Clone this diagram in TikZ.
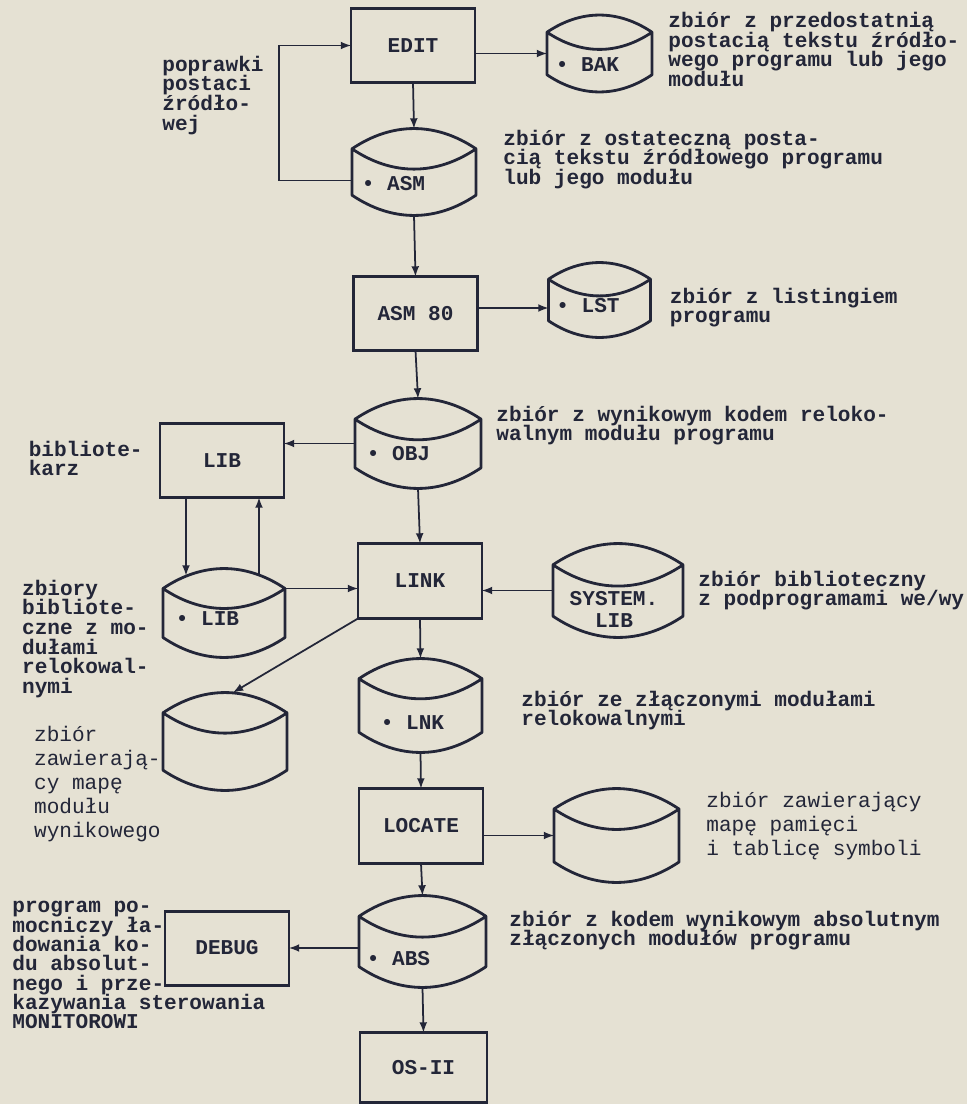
\documentclass[tikz,border=0pt]{standalone}
\usepackage{fontspec}
\setmainfont{Liberation Mono}
\usetikzlibrary{arrows,positioning}

\definecolor{paper}{RGB}{229,225,211}
\definecolor{ink}{RGB}{35,38,56}
\lineskiplimit=-20pt

\begin{document}
\begin{tikzpicture}[
    every node/.style={text=ink},
    box/.style={draw=ink, rectangle, line width=1.7pt, outer sep=0pt,
      minimum width=2.48cm, minimum height=1.48cm,
      font=\bfseries\fontsize{12pt}{12pt}\selectfont},
    disk/.style={rectangle, inner sep=0pt, outer sep=0pt,
      minimum width=#1, minimum height=1.8cm,
      append after command={\pgfextra{\let\disknode\tikzlastnode
        \draw[ink, line width=1.6pt, line join=round]
          ([yshift=-0.164*#1]\disknode.north west) to[bend left=34]
          ([yshift=-0.164*#1]\disknode.north east)
          -- ([yshift=0.164*#1]\disknode.south east) to[bend left=34]
          ([yshift=0.164*#1]\disknode.south west) -- cycle
          ([yshift=-0.164*#1]\disknode.north west) to[bend right=34]
          ([yshift=-0.164*#1]\disknode.north east);}}},
    disk/.default=2.48cm,
    disklabel/.style={inner sep=0pt, align=center,
      font=\bfseries\fontsize{12pt}{13pt}\selectfont},
    note/.style={inner sep=0pt, align=left,
      font=\bfseries\fontsize{12pt}{#1}\selectfont},
    note/.default=11.2pt,
    lightnote/.style={inner sep=0pt, align=left,
      font=\fontsize{12pt}{13.7pt}\selectfont},
    flow/.style={draw=ink, line width=1pt, -latex}
  ]
  \fill[paper] (0,0) rectangle (19.34,-22.08);
  \useasboundingbox (0,0) rectangle (19.34,-22.08);

  % main column
  \node[box] (edit) at (8.26,-0.91) {EDIT};
  \node[disk, minimum height=1.74cm] (asm)
    [below=0.92cm of edit, xshift=0.02cm] {};
  \node[box] (asm80)
    [below=1.22cm of asm, xshift=0.03cm] {ASM 80};
  \node[disk=2.52cm, minimum height=1.8cm] (obj)
    [below=0.96cm of asm80, xshift=0.05cm] {};
  \node[box, minimum height=1.5cm] (link)
    [below=1.1cm of obj, xshift=0.04cm] {LINK};
  \node[disk=2.46cm, minimum height=1.88cm] (lnk)
    [below=0.8cm of link, xshift=0.01cm] {};
  \node[box, minimum height=1.5cm] (locate)
    [below=0.72cm of lnk, xshift=0.01cm] {LOCATE};
  \node[disk=2.54cm, minimum height=1.84cm] (abs)
    [below=0.64cm of locate, xshift=0.03cm] {};
  \node[box, minimum width=2.54cm, minimum height=1.4cm] (os)
    [below=0.9cm of abs, xshift=0.02cm] {OS-II};

  % side files and programs
  \node[disk=2.1cm, minimum height=1.54cm] (bak)
    [right=1.44cm of edit, yshift=-0.16cm] {};
  \node[disk=2.04cm, minimum height=1.5cm] (lst)
    [right=1.42cm of asm80, yshift=0.27cm] {};
  \node[box] (lib)
    [left=1.42cm of obj, yshift=-0.34cm] {LIB};
  \node[disk=2.44cm, minimum height=1.78cm] (libdisk)
    [below=1.42cm of lib, xshift=0.04cm] {};
  \node[disk, minimum height=1.96cm] (mapdisk)
    [below=0.7cm of libdisk, xshift=0.02cm] {};
  \node[disk=2.6cm, minimum height=1.88cm] (system)
    [right=1.42cm of link, yshift=-0.19cm] {};
  \node[disk=2.5cm, minimum height=1.88cm] (map2)
    [right=1.42cm of locate, yshift=-0.19cm] {};
  \node[box] (debug)
    [left=1.4cm of abs, yshift=-0.13cm] {DEBUG};

  % file names
  \node[disklabel] (baklbl) at ([xshift=-0.24cm,yshift=-0.23cm]bak.center) {• BAK};
  \node[disklabel] (asmlbl) at ([xshift=-0.41cm,yshift=-0.23cm]asm.center) {• ASM};
  \node[disklabel] (lstlbl) at ([xshift=-0.23cm,yshift=-0.11cm]lst.center) {• LST};
  \node[disklabel] (objlbl) at ([xshift=-0.39cm,yshift=-0.2cm]obj.center) {• OBJ};
  \node[disklabel] (liblbl) at ([xshift=-0.33cm,yshift=-0.11cm]libdisk.center) {• LIB};
  \node[disklabel] (syslbl) at ([xshift=-0.08cm,yshift=-0.38cm]system.center) {SYSTEM.\\LIB};
  \node[disklabel] (lnklbl) at ([xshift=-0.16cm,yshift=-0.34cm]lnk.center) {• LNK};
  \node[disklabel] (abslbl) at ([xshift=-0.48cm,yshift=-0.34cm]abs.center) {• ABS};

  % descriptions
  \node[note] (fixnote)
    [below right=0.94cm and -3.78cm of edit.north west]
    {poprawki\\postaci\\źródło-\\wej};
  \node[note] (baknote)
    [below right=-0.06cm and 0.32cm of bak.north east]
    {zbiór z przedostatnią\\postacią tekstu źródło-\\wego programu lub jego\\modułu};
  \node[note] (asmnote)
    [below right=0.02cm and 0.54cm of asm.north east]
    {zbiór z ostateczną posta-\\cią tekstu źródłowego programu\\lub jego modułu};
  \node[note] (lstnote)
    [below right=0.5cm and 0.38cm of lst.north east]
    {zbiór z listingiem\\programu};
  \node[note] (objnote)
    [below right=0.14cm and 0.3cm of obj.north east]
    {zbiór z wynikowym kodem reloko-\\walnym modułu programu};
  \node[note] (libnote)
    [below left=0.34cm and 0.34cm of lib.north west]
    {bibliote-\\karz};
  \node[note] (libdisknote)
    [below left=0.22cm and 0.28cm of libdisk.north west]
    {zbiory\\bibliote-\\czne z mo-\\dułami\\relokowal-\\nymi};
  \node[lightnote] (mapnote)
    [below left=0.66cm and 0.04cm of mapdisk.north west]
    {zbiór\\zawierają-\\cy mapę\\modułu\\wynikowego};
  \node[note] (sysnote)
    [below right=0.54cm and 0.3cm of system.north east]
    {zbiór biblioteczny\\z podprogramami we/wy};
  \node[note] (lnknote)
    [below right=0.64cm and 0.78cm of lnk.north east]
    {zbiór ze złączonymi modułami\\relokowalnymi};
  \node[lightnote] (map2note)
    [below right=0.06cm and 0.54cm of map2.north east]
    {zbiór zawierający\\mapę pamięci\\i tablicę symboli};
  \node[note] (absnote)
    [below right=0.3cm and 0.46cm of abs.north east]
    {zbiór z kodem wynikowym absolutnym\\złączonych modułów programu};
  \node[note=11pt] (debugnote)
    [below right=-0.2cm and -3.06cm of debug.north west]
    {program po-\\mocniczy ła-\\dowania ko-\\du absolut-\\nego i prze-\\kazywania sterowania\\MONITOROWI};

  % connectors
  \coordinate (lstin) at ([yshift=-0.16cm]lst.west);
  \coordinate (libout) at ([yshift=-0.4cm]libdisk.north east);
  \draw[flow] (edit.south) -- (asm.north);
  \draw[flow] ([yshift=-0.17cm]asm.west) -- ++(-1.46cm,0) |- (edit.west);
  \draw[flow] (edit.east |- bak.west) -- (bak.west);
  \draw[flow] (asm.south) -- (asm80.north);
  \draw[flow] (lstin -| asm80.east) -- (lstin);
  \draw[flow] (asm80.south) -- (obj.north);
  \draw[flow] (obj.west) -- (obj.west -| lib.east);
  \draw[flow] ([xshift=-0.72cm]lib.south) -- ([xshift=-0.72cm,yshift=-1.56cm]lib.south);
  \draw[flow] ([xshift=0.74cm,yshift=-1.55cm]lib.south) -- ([xshift=0.74cm]lib.south);
  \draw[flow] (obj.south) -- (link.north);
  \draw[flow] (libout) -- (libout -| link.west);
  \draw[flow] (system.west) -- (system.west -| link.east);
  \draw[flow] (link.south west) -- ([xshift=0.16cm]mapdisk.north);
  \draw[flow] (link.south) -- (lnk.north);
  \draw[flow] (lnk.south) -- (locate.north);
  \draw[flow] (map2.west -| locate.east) -- (map2.west);
  \draw[flow] (locate.south) -- (abs.north);
  \draw[flow] (abs.west |- debug.east) -- (debug.east);
  \draw[flow] (abs.south) -- (os.north);
\end{tikzpicture}
\end{document}
